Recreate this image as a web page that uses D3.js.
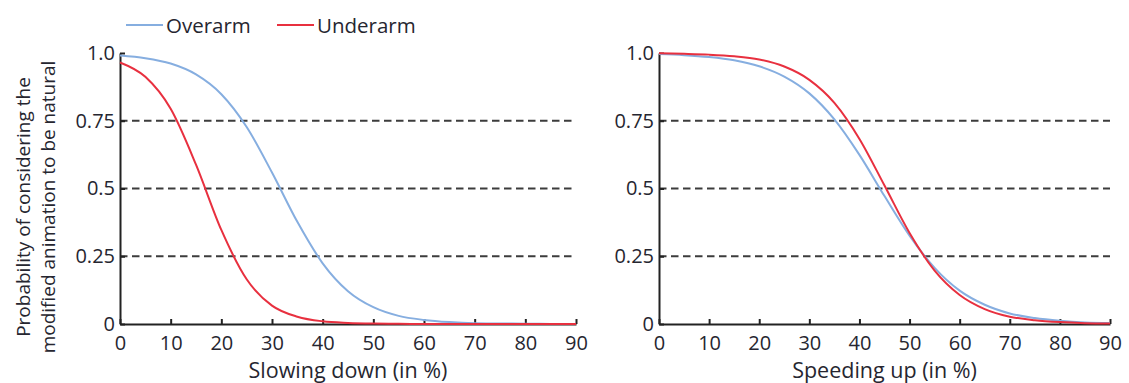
<!DOCTYPE html>
<html>
<head>
<meta charset="utf-8">
<script src="https://cdn.jsdelivr.net/npm/d3@7"></script>
<style>
  body { margin: 0; background: #fff; }
  text { font-family: "Open Sans", sans-serif; fill: #262630; }
</style>
</head>
<body>
<div id="frame"></div>
<script>
// VARIABLES
const width = 1129;
const height = 383;

// data (probability at each x)
const xValues = [0, 5, 10, 15, 20, 25, 30, 35, 40, 45, 50, 55, 60, 65, 70, 75, 80, 85, 90];

const slowOverarm  = [0.991, 0.981, 0.961, 0.921, 0.848, 0.727, 0.559, 0.377, 0.224, 0.121, 0.062, 0.030, 0.015, 0.007, 0.003, 0.002, 0.001, 0.0004, 0.0002];
const slowUnderarm = [0.965, 0.912, 0.794, 0.588, 0.347, 0.165, 0.068, 0.027, 0.010, 0.004, 0.0014, 0.0005, 0.0002, 0.0001, 0, 0, 0, 0, 0];

const speedOverarm  = [0.996, 0.992, 0.985, 0.973, 0.951, 0.913, 0.851, 0.755, 0.624, 0.472, 0.326, 0.207, 0.123, 0.071, 0.039, 0.022, 0.012, 0.006, 0.0035];
const speedUnderarm = [0.999, 0.997, 0.994, 0.988, 0.976, 0.950, 0.901, 0.816, 0.683, 0.511, 0.336, 0.197, 0.107, 0.055, 0.027, 0.014, 0.007, 0.003, 0.0016];

const xTicks = [0, 10, 20, 30, 40, 50, 60, 70, 80, 90];
const yTicks = [0, 0.25, 0.5, 0.75, 1];
const yTickLabels = ["0", "0.25", "0.5", "0.75", "1.0"];
const refLines = [0.25, 0.5, 0.75];

const seriesNames = ["Overarm", "Underarm"];

// colors
function colorSeries(name) {
    return name == "Overarm" ? "#86aee0"
        : name == "Underarm" ? "#e8303f"
        : "#999";
}

// define svg
const svg = d3.select("#frame")
    .append("svg")
        .attr("width", width)
        .attr("height", height)
        .attr("viewBox", [0, 0, width, height]);

const y = d3.scaleLinear()
    .domain([0, 1])
    .range([324, 53]);

// FUNCTIONS
function drawPanel(left, right, title, overarm, underarm) {
    const x = d3.scaleLinear()
        .domain([0, 90])
        .range([left, right]);

    const g = svg.append("g");

    // dashed reference lines
    g.selectAll("line.ref")
        .data(refLines)
        .enter()
        .append("line")
            .attr("class", "ref")
            .attr("x1", x(0))
            .attr("x2", x(90))
            .attr("y1", d => y(d))
            .attr("y2", d => y(d))
            .attr("stroke", "#3c3c3c")
            .attr("stroke-width", 2)
            .attr("stroke-dasharray", "7.5,4.5");

    // x axis
    const xAxis = g.append("g")
        .attr("transform", "translate(0," + y(0) + ")")
        .call(d3.axisBottom(x)
            .tickValues(xTicks)
            .tickSizeInner(-5)
            .tickSizeOuter(0)
            .tickPadding(12));

    // y axis
    const yAxis = g.append("g")
        .attr("transform", "translate(" + x(0) + ",0)")
        .call(d3.axisLeft(y)
            .tickValues(yTicks)
            .tickFormat((d, i) => yTickLabels[i])
            .tickSizeInner(-5)
            .tickSizeOuter(0)
            .tickPadding(5));

    [xAxis, yAxis].forEach(a => {
        a.select(".domain").attr("stroke", "#222").attr("stroke-width", 2);
        a.selectAll(".tick line").attr("stroke", "#222").attr("stroke-width", 2);
        a.selectAll(".tick text")
            .style("font-family", "'Open Sans', sans-serif")
            .style("font-size", "20px")
            .attr("fill", "#262630");
    });

    // curves
    const line = d3.line()
        .x((d, i) => x(xValues[i]))
        .y(d => y(d))
        .curve(d3.curveMonotoneX);

    [["Overarm", overarm], ["Underarm", underarm]].forEach(s => {
        g.append("path")
            .datum(s[1])
            .attr("d", line)
            .attr("fill", "none")
            .attr("stroke", colorSeries(s[0]))
            .attr("stroke-width", 2);
    });

    // x axis title
    g.append("text")
        .attr("x", (left + right) / 2)
        .attr("y", 378)
        .attr("text-anchor", "middle")
        .style("font-size", "21.5px")
        .text(title);
}

drawPanel(120, 576, "Slowing down (in %)", slowOverarm, slowUnderarm);
drawPanel(659, 1110, "Speeding up (in %)", speedOverarm, speedUnderarm);

// y axis title
const yTitle = svg.append("text")
    .attr("transform", "translate(0,207) rotate(-90)")
    .attr("text-anchor", "middle")
    .style("font-size", "19px");
yTitle.append("tspan").attr("x", 0).attr("y", 30).text("Probability of considering the");
yTitle.append("tspan").attr("x", 0).attr("y", 55).text("modified animation to be natural");

// legend
const legendX = [126, 277];
const legend = svg.append("g")
    .selectAll("g")
    .data(seriesNames)
    .enter()
    .append("g")
        .attr("transform", (d, i) => "translate(" + legendX[i] + ",25)");

legend.append("line")
    .attr("x1", 0)
    .attr("x2", 37)
    .attr("stroke", d => colorSeries(d))
    .attr("stroke-width", 2);

legend.append("text")
    .attr("x", 40)
    .attr("y", 8)
    .style("font-size", "20.5px")
    .text(d => d);
</script>
</body>
</html>
